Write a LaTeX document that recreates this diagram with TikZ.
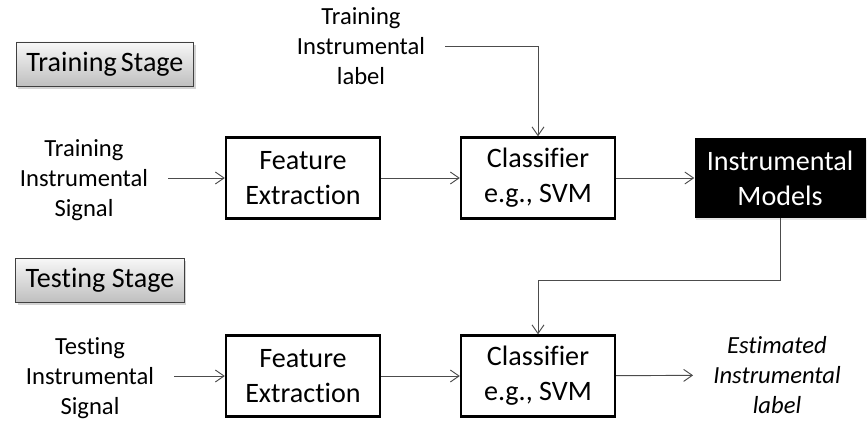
\documentclass[tikz,border=0pt]{standalone}
\usepackage{fontspec}
\setmainfont[Ligatures={NoCommon}]{Carlito}
\usetikzlibrary{arrows.meta, positioning, shadows}

\begin{document}
\begin{tikzpicture}[
	x=0.03cm, y=-0.03cm,
	blk/.style={rectangle, draw=black, line width=2pt, fill=white, align=center,
	            minimum width=4.62cm, minimum height=2.43cm, font=\fontsize{24}{30}\selectfont},
	model/.style={rectangle, fill=black, text=white, align=center,
	              minimum width=5.13cm, minimum height=2.4cm, font=\fontsize{24}{30}\selectfont,
	              drop shadow={opacity=0.2, shadow xshift=0.5mm, shadow yshift=-0.5mm}},
	stage/.style={rectangle, draw=black!75, line width=0.8pt, top color=black!3, bottom color=black!25,
	              inner xsep=0.3cm, minimum height=1.32cm, font=\fontsize{24}{30}\selectfont,
	              drop shadow={opacity=0.35, shadow xshift=0.6mm, shadow yshift=-0.8mm}},
	txt/.style={align=center, inner xsep=0.6cm, inner ysep=2pt, font=\fontsize{21}{25.6}\selectfont},
	arr/.style={-{Straight Barb[length=2.6mm, width=3.6mm]}, draw=black!70, line width=0.8pt}
	]
\useasboundingbox (0,0) rectangle (868,423);

% Stufen
\node[stage] (st1) at (105,64) {Training\hspace{0.15em}Stage};
\node[stage] (st2) at (100,280) {Testing Stage};

% Trainingszweig
\node[txt] (sig1) at (84,180) {Training\\Instrumental\\Signal};
\node[blk] (fe1) at (303,178) {Feature\\Extraction};
\node[blk] (cls1) at (538,178) {Classifier\\e.g., SVM};
\node[model] (mod) at (780,178) {Instrumental\\Models};
\node[txt] (tlab) at (361,46) {Training\\Instrumental\\label};
\draw[arr] (sig1.east |- fe1) -- (fe1);
\draw[arr] (fe1) -- (cls1);
\draw[arr] (cls1) -- (mod);
\draw[arr] (tlab.east) -| (cls1.north);

% Testzweig
\node[txt] (sig2) at (90,378) {Testing\\Instrumental\\Signal};
\node[blk] (fe2) at (303,376) {Feature\\Extraction};
\node[blk] (cls2) at (538,376) {Classifier\\e.g., SVM};
\node[txt, font=\fontsize{21}{25.6}\selectfont\itshape] (est) at (777,375) {Estimated\\Instrumental\\label};
\draw[arr] (sig2.east |- fe2) -- (fe2);
\draw[arr] (fe2) -- (cls2);
\draw[arr] (cls2) -- (est);
\draw[arr] (mod.south) -- ++(0,62) -| (cls2.north);

\end{tikzpicture}
\end{document}
